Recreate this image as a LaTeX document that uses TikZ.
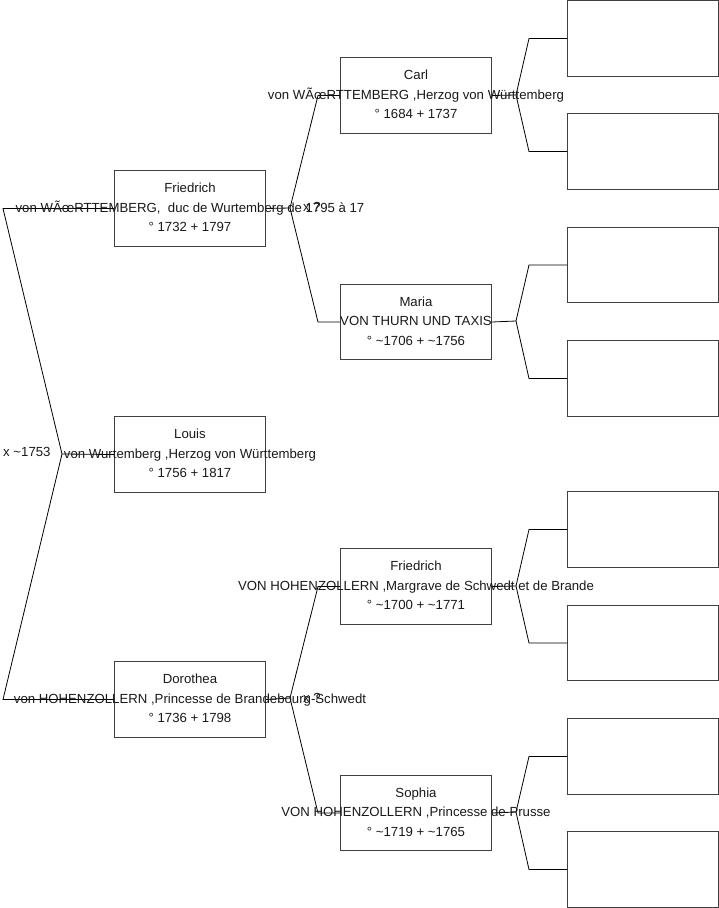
\documentclass[tikz,border=0pt]{standalone}
\usepackage{fontspec}
\setmainfont{Liberation Sans}
\begin{document}
\begin{tikzpicture}[x=1pt,y=-1pt,
  pbox/.style={draw=black!75,line width=1pt,minimum width=151pt,inner sep=0pt,anchor=north west},
  ptext/.style={align=center,font=\fontsize{13.2}{19.6}\selectfont,inner sep=0pt,text=black!90,yshift=1pt},
  mtext/.style={font=\fontsize{13.2}{15}\selectfont,inner sep=0pt,anchor=west,text=black!90},
  conn/.style={draw=black,line width=0.8pt}]
\useasboundingbox (0,0) rectangle (719,908);
% column 1
\node[pbox,minimum height=76pt] (fA) at (114,170) {};
\node[pbox,minimum height=76pt] (lo) at (114,416) {};
\node[pbox,minimum height=76pt] (dA) at (114,661) {};
% column 2
\node[pbox,minimum height=76pt] (ca) at (340,57) {};
\node[pbox,minimum height=75pt] (ma) at (340,284) {};
\node[pbox,minimum height=76pt] (fB) at (340,548) {};
\node[pbox,minimum height=75pt] (so) at (340,775) {};
% column 3
\node[pbox,minimum height=76pt] (e1) at (567,0) {};
\node[pbox,minimum height=76pt] (e2) at (567,113) {};
\node[pbox,minimum height=75pt] (e3) at (567,227) {};
\node[pbox,minimum height=76pt] (e4) at (567,340) {};
\node[pbox,minimum height=76pt] (e5) at (567,491) {};
\node[pbox,minimum height=75pt] (e6) at (567,605) {};
\node[pbox,minimum height=76pt] (e7) at (567,718) {};
\node[pbox,minimum height=76pt] (e8) at (567,831) {};
% fork points
\coordinate (k0) at (62,454);
\coordinate (k1) at (290,208);
\coordinate (k2) at (290,698);
\coordinate (k3) at (516,95);
\coordinate (k4) at (516,321);
\coordinate (k5) at (516,586);
\coordinate (k6) at (516,812);
% connectors
\draw[conn] (lo.west) -- (k0) -- ([xshift=-111pt]fA.west) -- (fA.west);
\draw[conn] (k0) -- ([xshift=-111pt]dA.west) -- (dA.west);
\draw[conn] (fA.east) -- (k1) -- ([xshift=-22pt]ca.west) -- (ca.west);
\draw[conn] (k1) -- ([xshift=-22pt]ma.west) -- (ma.west);
\draw[conn] (dA.east) -- (k2) -- ([xshift=-22pt]fB.west) -- (fB.west);
\draw[conn] (k2) -- ([xshift=-22pt]so.west) -- (so.west);
\draw[conn] (ca.east) -- (k3) -- ([xshift=-38pt]e1.west) -- (e1.west);
\draw[conn] (k3) -- ([xshift=-38pt]e2.west) -- (e2.west);
\draw[conn] (ma.east) -- (k4) -- ([xshift=-38pt]e3.west) -- (e3.west);
\draw[conn] (k4) -- ([xshift=-38pt]e4.west) -- (e4.west);
\draw[conn] (fB.east) -- (k5) -- ([xshift=-38pt]e5.west) -- (e5.west);
\draw[conn] (k5) -- ([xshift=-38pt]e6.west) -- (e6.west);
\draw[conn] (so.east) -- (k6) -- ([xshift=-38pt]e7.west) -- (e7.west);
\draw[conn] (k6) -- ([xshift=-38pt]e8.west) -- (e8.west);
% texts
\node[ptext] (tfA) at (fA.center) {Friedrich\\von WÃœRTTEMBERG,\ \ duc de Wurtemberg de 1795 à 17\\° 1732 + 1797};
\node[ptext] (tlo) at (lo.center) {Louis\\von Wurtemberg ,Herzog von Württemberg\\° 1756 + 1817};
\node[ptext] (tdA) at (dA.center) {Dorothea\\von HOHENZOLLERN ,Princesse de Brandebourg-Schwedt\\° 1736 + 1798};
\node[ptext] (tca) at (ca.center) {Carl\\von WÃœRTTEMBERG ,Herzog von Württemberg\\° 1684 + 1737};
\node[ptext] (tma) at (ma.center) {Maria\\VON THURN UND TAXIS\\° \textasciitilde1706 + \textasciitilde1756};
\node[ptext] (tfB) at (fB.center) {Friedrich\\VON HOHENZOLLERN ,Margrave de Schwedt et de Brande\\° \textasciitilde1700 + \textasciitilde1771};
\node[ptext] (tso) at (so.center) {Sophia\\VON HOHENZOLLERN ,Princesse de Prusse\\° \textasciitilde1719 + \textasciitilde1765};
% marriage labels
\node[mtext] (m0) at (3,452) {x \textasciitilde1753};
\node[mtext] (m1) at (303,207) {x ?};
\node[mtext] (m2) at (303,698) {x ?};
\end{tikzpicture}
\end{document}
